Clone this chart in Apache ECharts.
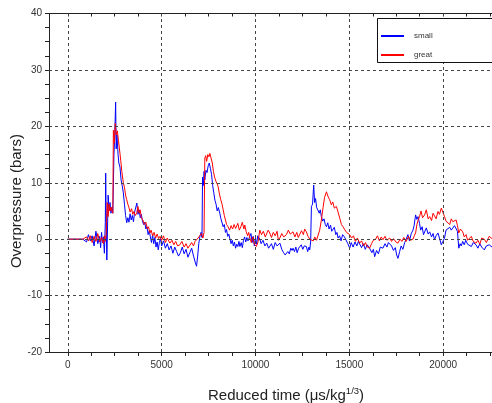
<!DOCTYPE html>
<html>
<head>
<meta charset="utf-8">
<script src="https://cdn.jsdelivr.net/npm/echarts@6/dist/echarts.min.js"></script>
<style>
  html, body { margin: 0; padding: 0; background: #fff; }
  #chart { width: 492px; height: 403px; }
</style>
</head>
<body>
<div id="chart"></div>
<script>
// 曲线数据: [reduced time, overpressure]
var smallData = [[0,0],[400,0],[800,0],[900,0.3],[1000,-0.5],[1100,0.8],[1200,-0.3],[1300,0.6],[1400,-1.2],[1500,1.4],[1600,-0.8],[1700,0.5],[1750,-1.5],[1800,1.2],[1850,-0.6],[1900,0.4],[1950,-2.5],[2000,3],[2020,11.7],[2050,2],[2080,-3.7],[2100,-1],[2150,7.8],[2200,5],[2250,6.5],[2300,4.6],[2350,5.7],[2400,4.6],[2420,8],[2460,15],[2500,18],[2550,24.3],[2580,16],[2620,18.5],[2680,15],[2720,13.5],[2780,12.8],[2840,10.5],[2900,9.5],[2960,8.2],[3020,6.2],[3080,4.2],[3140,2.9],[3200,3.8],[3260,3.0],[3320,4.5],[3380,3.4],[3440,4.2],[3500,3.1],[3560,4.8],[3620,5.0],[3680,6.4],[3740,4.4],[3800,5.2],[3860,3.8],[3920,4.4],[3980,3.2],[4040,2.6],[4100,3.0],[4160,1.8],[4220,2.2],[4280,0.8],[4340,1.5],[4400,0.4],[4460,-0.6],[4520,0.8],[4580,-0.8],[4640,0.3],[4700,-1.4],[4760,-0.5],[4820,-1.9],[4880,-0.6],[4940,0.1],[5000,-1.2],[5100,-0.3],[5200,-1.6],[5300,-0.8],[5400,-1.9],[5500,-1.2],[5600,-2.5],[5700,-1.4],[5800,-2.2],[5900,-3.0],[6000,-2.4],[6100,-1.4],[6200,-2.6],[6300,-1.8],[6400,-3.2],[6500,-2.4],[6600,-1.6],[6700,-3.0],[6800,-4.2],[6860,-4.8],[6920,-3.0],[6980,-0.8],[7040,0.5],[7100,1.2],[7150,0.3],[7180,11],[7220,9.5],[7260,12],[7300,10.5],[7360,12.2],[7420,11.8],[7480,13],[7540,13.5],[7600,12.5],[7660,11.5],[7720,9.5],[7780,8.2],[7840,6.9],[7900,6.2],[7960,5.0],[8020,5.6],[8100,4.6],[8160,3.6],[8220,3.8],[8280,2.2],[8340,2.6],[8400,1.2],[8460,1.7],[8520,0.5],[8580,0.9],[8640,0],[8700,-0.8],[8760,-0.2],[8820,-1.2],[8880,-0.5],[8940,-1.6],[9000,-0.9],[9060,-1.3],[9120,-0.4],[9170,-1.3],[9240,-0.6],[9300,-1.5],[9360,-0.2],[9420,0.4],[9480,-0.5],[9540,0.3],[9600,-0.3],[9700,0],[9760,1.0],[9820,-0.6],[9880,0.5],[9940,-1.2],[10000,0.2],[10060,-0.9],[10120,0.6],[10230,0],[10300,-0.8],[10400,-0.2],[10500,-1.2],[10600,-0.7],[10700,-1.6],[10760,-1.6],[10850,-0.8],[10950,-1.8],[11050,-0.6],[11150,-1.2],[11300,-0.7],[11400,-1.8],[11500,-2.4],[11580,-2.8],[11650,-3.1],[11720,-2.2],[11800,-2.6],[11880,-1.6],[11950,-2.0],[12000,-1.6],[12080,-2.2],[12150,-1.4],[12220,-2.4],[12300,-1.6],[12360,-1.9],[12440,-1.0],[12520,-1.8],[12600,-1.2],[12710,-1.3],[12780,-2.2],[12850,-1.4],[12890,-1.9],[12940,-0.5],[12980,5.8],[13040,6.2],[13100,9.6],[13150,6.5],[13200,7.2],[13260,5.6],[13330,5.8],[13400,4.6],[13450,5.2],[13510,4.0],[13580,3.2],[13650,3.6],[13720,2.6],[13780,2.2],[13850,2.9],[13920,1.8],[14000,2.5],[14060,1.4],[14130,1.6],[14200,2.1],[14280,0.8],[14340,1.2],[14400,0.2],[14480,0.6],[14560,-0.3],[14640,0.8],[14740,0.4],[14840,0.2],[14920,-0.8],[15020,-1.6],[15100,-0.6],[15200,-1.4],[15300,-0.5],[15400,-1.2],[15480,-0.4],[15550,-0.7],[15650,-1.5],[15750,-0.8],[15850,-1.8],[15950,-1.0],[16080,-1.6],[16200,-2.4],[16280,-1.8],[16350,-3.1],[16450,-2.0],[16550,-2.6],[16650,-1.4],[16790,-1.6],[16900,-0.8],[17000,-1.4],[17080,-0.6],[17150,-0.4],[17250,-1.2],[17350,-2.0],[17450,-1.5],[17520,-2.8],[17590,-3.4],[17680,-2.2],[17760,-1.2],[17850,-1.8],[17950,-0.6],[18030,0],[18120,0.8],[18200,-0.3],[18300,1.0],[18390,1.6],[18450,2.4],[18530,4.3],[18600,3.5],[18660,4.0],[18740,2.8],[18800,1.6],[18880,2.2],[18950,0.8],[19010,1.1],[19100,2.0],[19200,0.9],[19280,1.3],[19380,0.4],[19460,1.0],[19540,-0.1],[19620,0.6],[19720,1.1],[19800,0.2],[19900,-1.0],[19980,-0.4],[20070,0.2],[20150,1.6],[20250,1.3],[20350,2.1],[20430,1.6],[20510,1.9],[20600,2.4],[20690,2.2],[20760,1.4],[20830,-1.6],[20900,-0.8],[20960,-1.2],[21040,-0.4],[21120,-1.0],[21200,-0.2],[21300,-0.9],[21400,-0.7],[21500,-1.3],[21600,-0.6],[21750,-1.0],[21850,-1.6],[21950,-0.8],[22050,-1.4],[22190,-1.9],[22300,-1.2],[22450,-1.0],[22600,-1.4]];

var greatData = [[0,0],[400,0],[800,0],[900,-0.2],[1000,0.4],[1100,-0.3],[1200,0.6],[1300,-0.6],[1400,0.5],[1500,-0.4],[1600,1.0],[1700,-0.5],[1800,0.3],[1900,-0.8],[1950,0.6],[2000,-0.4],[2050,1.0],[2100,6.5],[2150,4.0],[2200,6.2],[2250,5.0],[2300,5.7],[2350,5.0],[2400,4.6],[2430,19.3],[2480,17],[2530,20.5],[2580,18.5],[2640,19.2],[2700,17.5],[2760,15.8],[2820,14],[2880,12],[2960,10],[3020,9.2],[3080,7.8],[3140,7.0],[3200,6.2],[3260,5.6],[3320,4.8],[3400,5.4],[3460,4.4],[3520,4.9],[3600,4.2],[3670,4.6],[3740,5.8],[3800,4.6],[3860,5.2],[3920,3.8],[4000,3.4],[4080,2.6],[4160,3.0],[4240,1.8],[4300,2.2],[4380,1.1],[4440,1.6],[4520,0.6],[4600,1.2],[4680,0.2],[4760,0.9],[4840,0.1],[4910,0.5],[5000,-0.2],[5100,0.6],[5200,-0.6],[5300,0.2],[5440,-0.7],[5550,-0.2],[5650,-1.0],[5750,-0.4],[5850,-1.2],[5970,-1.0],[6080,-0.4],[6200,-1.4],[6300,-0.8],[6400,-1.6],[6500,-1.3],[6600,-0.6],[6700,-1.2],[6780,-0.4],[6860,-0.7],[6940,0.2],[7040,0.5],[7120,1.0],[7200,0.2],[7260,1.2],[7300,14.4],[7350,14.8],[7400,13.8],[7460,15],[7520,14.6],[7570,15.2],[7640,14.9],[7700,13.5],[7760,12],[7820,11],[7900,10.2],[7960,9.8],[8010,9.3],[8080,8],[8150,7.0],[8220,6.2],[8280,5.2],[8340,4.2],[8400,3.4],[8460,2.6],[8540,2.2],[8620,1.6],[8700,2.4],[8780,1.8],[8860,2.6],[8940,1.9],[8990,2.0],[9060,2.8],[9140,1.6],[9220,2.2],[9300,3.0],[9380,1.8],[9430,2.5],[9500,1.4],[9580,0.6],[9640,1.2],[9700,0.2],[9780,-0.6],[9860,0.4],[9940,-0.9],[10050,-1.3],[10140,-0.4],[10230,1.6],[10320,0.8],[10420,1.4],[10520,0.4],[10590,0.5],[10680,1.6],[10760,1.1],[10850,0.3],[10950,1.2],[11050,0.6],[11150,1.4],[11220,-0.2],[11300,0.2],[11400,1.0],[11500,0.4],[11650,0.8],[11750,1.6],[11850,0.9],[12000,1.3],[12100,0.4],[12200,1.2],[12280,0.3],[12360,0.5],[12450,1.5],[12550,0.8],[12620,1.8],[12710,1.3],[12800,0.5],[12890,0],[12980,0.3],[13080,-0.3],[13160,0.4],[13250,-0.2],[13330,0],[13420,1.6],[13510,3.4],[13600,5.6],[13680,7.4],[13780,8.4],[13860,7.6],[13950,7.0],[14040,6.1],[14120,6.6],[14200,5.5],[14310,5.8],[14400,4.8],[14490,3.7],[14580,2.6],[14660,2.2],[14750,1.9],[14850,1.2],[14940,1.4],[15020,0.8],[15120,0.2],[15220,0.6],[15320,-0.4],[15430,0.2],[15550,-0.7],[15650,-0.3],[15760,-1.2],[15860,-0.6],[15960,-1.4],[16080,-1.6],[16180,-0.8],[16280,-0.2],[16400,0],[16500,0.6],[16600,-0.3],[16700,0.4],[16790,-0.1],[16900,0.5],[17000,-0.2],[17150,0.2],[17250,-0.4],[17350,0.1],[17480,-0.5],[17590,-0.7],[17700,0],[17800,-0.4],[17900,0.3],[18030,-0.4],[18150,0.5],[18250,-0.2],[18390,0],[18460,0.6],[18530,1.1],[18600,2.6],[18680,3.5],[18740,4.0],[18820,5.0],[18900,3.8],[19010,4.3],[19100,5.2],[19200,3.6],[19280,4.0],[19380,3.3],[19460,4.6],[19540,4.3],[19620,3.6],[19720,4.9],[19800,4.4],[19900,5.5],[19980,4.8],[20070,4.0],[20150,3.2],[20250,3.4],[20350,2.6],[20430,3.6],[20510,3.1],[20600,2.8],[20690,3.4],[20760,2.4],[20830,1.1],[20920,1.8],[21040,1.3],[21120,0.4],[21220,0.8],[21300,-0.2],[21400,-0.1],[21500,0.5],[21600,-0.4],[21750,-0.7],[21850,-0.2],[21950,-0.9],[22050,0.2],[22190,0],[22300,-0.6],[22450,0.5],[22600,0.1]];

// 坐标轴刻度
var xLabelValues = [0, 5000, 10000, 15000, 20000];
var xTickValues = [0, 1250, 2500, 3750, 5000, 6250, 7500, 8750, 10000, 11250, 12500, 13750, 15000, 16250, 17500, 18750, 20000, 21250, 22500];
var yGridValues = [-10, 0, 10, 20, 30];

var fontFam = '"Liberation Sans", Arial, sans-serif';
var axisColor = '#222';

var chart = echarts.init(document.getElementById('chart'));

// 网格虚线用 markLine 画
var gridLines = [];
xLabelValues.forEach(function (v) { gridLines.push({ xAxis: v }); });
yGridValues.forEach(function (v) { gridLines.push({ yAxis: v }); });

var option = {
    animation: false,
    backgroundColor: '#fff',
    grid: { left: 49, top: 13.5, right: -2, bottom: 51 },
    legend: {
        orient: 'vertical',
        left: 376,
        top: 26,
        itemWidth: 23,
        itemHeight: 2,
        itemGap: 9,
        icon: 'rect',
        data: ['small', 'great'],
        textStyle: { fontSize: 8, color: '#333', fontFamily: fontFam, lineHeight: 10, padding: [0, 0, 0, 5] },
        z: 10
    },
    xAxis: [{
        type: 'value',
        min: -1000,
        max: 22600,
        axisLine: { onZero: false, lineStyle: { color: axisColor, width: 1 } },
        axisTick: { show: true, length: 4, customValues: xTickValues, lineStyle: { color: axisColor } },
        axisLabel: {
            customValues: xLabelValues,
            formatter: function (v) { return String(v); },
            fontSize: 10, color: '#333', fontFamily: fontFam, margin: 8
        },
        splitLine: { show: false }
    }, {
        type: 'value',
        position: 'top',
        min: -1000,
        max: 22600,
        axisLine: { onZero: false, lineStyle: { color: axisColor, width: 1 } },
        axisTick: { show: true, inside: true, length: 3, customValues: xTickValues, lineStyle: { color: axisColor } },
        axisLabel: { show: false },
        splitLine: { show: false }
    }],
    yAxis: {
        type: 'value',
        min: -20,
        max: 40,
        interval: 10,
        axisLine: { show: true, onZero: false, lineStyle: { color: axisColor, width: 1 } },
        axisTick: { show: true, length: 4, lineStyle: { color: axisColor } },
        minorTick: { show: true, splitNumber: 4, length: 4, lineStyle: { color: axisColor } },
        axisLabel: { fontSize: 10, color: '#333', fontFamily: fontFam, margin: 7 },
        splitLine: { show: false }
    },
    series: [
        {
            name: 'grid',
            type: 'line',
            data: [],
            z: 1,
            silent: true,
            markLine: {
                silent: true,
                symbol: 'none',
                label: { show: false },
                lineStyle: { color: '#444', width: 1, type: [3, 3] },
                data: gridLines
            }
        },
        {
            name: 'small',
            type: 'line',
            data: smallData,
            showSymbol: false,
            sampling: 'none',
            z: 3,
            itemStyle: { color: '#0000ff' },
            lineStyle: { color: '#0000ff', width: 1 }
        },
        {
            name: 'great',
            type: 'line',
            data: greatData,
            showSymbol: false,
            sampling: 'none',
            z: 4,
            itemStyle: { color: '#ff0000' },
            lineStyle: { color: '#ff0000', width: 1 }
        }
    ],
    graphic: [
        { // 图例框
            type: 'rect',
            z: 8,
            shape: { x: 377.5, y: 18.5, width: 130, height: 44 },
            style: { fill: '#fff', stroke: '#111', lineWidth: 1 }
        },
        {
            type: 'text',
            x: 208,
            y: 386,
            style: {
                text: 'Reduced time (μs/kg{sup|1/3})',
                rich: { sup: { fontSize: 9.5, fontFamily: fontFam, fill: '#222', padding: [0, 0, 9, 0] } },
                fontSize: 15,
                fontFamily: fontFam,
                fill: '#222'
            }
        },
        {
            type: 'text',
            x: 17,
            y: 201,
            rotation: Math.PI / 2,
            style: {
                text: 'Overpressure (bars)',
                fontSize: 15,
                fontFamily: fontFam,
                fill: '#222',
                align: 'center',
                verticalAlign: 'middle'
            }
        }
    ]
};
chart.setOption(option);
</script>
</body>
</html>
